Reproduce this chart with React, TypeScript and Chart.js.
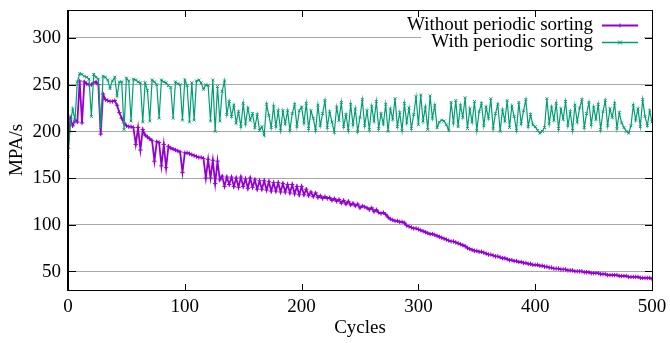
import React, { useEffect, useRef } from 'react';
import { Chart, registerables } from 'chart.js';

Chart.register(...registerables);

// Cycle numbers (every 2 cycles, 0..500)
const cycles: number[] = Array.from({ length: 251 }, (_, i) => i * 2);

const withoutSorting: number[] = [
  182, 214, 206, 212, 210, 254, 209, 253, 251, 250,
  250, 252, 253, 250, 197, 240, 234, 233, 232, 232,
  233, 228, 220, 214, 209, 206, 205, 205, 204, 186,
  204, 180, 202, 196, 194, 192, 190, 168, 189, 188,
  163, 186, 161, 184, 182, 181, 180, 179, 178, 156,
  177, 177, 176, 175, 174, 173, 172, 172, 171, 150,
  170, 150, 169, 144, 168, 148, 152, 141, 151, 143,
  151, 141, 150, 140, 151, 141, 149, 139, 150, 140,
  148, 138, 147, 138, 147, 137, 146, 136, 145, 136,
  145, 135, 144, 135, 143, 134, 143, 133, 141, 132,
  141, 132, 138, 131, 135, 130, 134, 129, 131, 128,
  130, 128, 129, 126, 128, 125, 127, 123, 126, 122,
  125, 121, 123, 120, 122, 118, 120, 119, 118, 116,
  118, 114, 116, 113, 112, 113, 111, 108, 106, 105,
  104, 104, 103, 103, 102, 99, 98, 97, 96, 96,
  95, 94, 93, 92, 91, 90, 90, 89, 88, 87,
  86, 85, 84, 83, 82, 82, 81, 80, 79, 78,
  77, 75, 74, 73, 72, 72, 71, 71, 70, 69,
  68, 68, 67, 66, 66, 65, 64, 64, 63, 62,
  62, 61, 61, 60, 60, 59, 59, 58, 58, 57,
  57, 57, 56, 56, 55, 55, 54, 54, 53, 53,
  53, 52, 52, 52, 51, 51, 51, 50, 50, 50,
  50, 49, 49, 49, 48, 48, 48, 48, 47, 47,
  47, 46, 46, 46, 46, 46, 45, 45, 45, 45,
  44, 44, 44, 44, 44, 43, 43, 43, 43, 43,
  42,
];

const withSorting: number[] = [
  173, 208, 224, 212, 253, 262, 261, 259, 258, 256,
  216, 261, 258, 256, 204, 259, 258, 255, 246, 254,
  258, 238, 253, 253, 202, 257, 254, 211, 256, 255,
  253, 252, 210, 252, 244, 211, 255, 253, 250, 214,
  255, 253, 252, 249, 247, 214, 253, 251, 250, 212,
  255, 249, 210, 252, 212, 254, 255, 252, 245, 250,
  249, 211, 255, 200, 248, 211, 243, 254, 218, 232,
  216, 228, 209, 221, 205, 230, 208, 225, 212, 219,
  204, 218, 201, 205, 196, 229, 217, 204, 227, 205,
  222, 201, 222, 208, 222, 201, 219, 229, 205, 222,
  226, 209, 230, 203, 222, 214, 201, 228, 206, 219,
  233, 204, 221, 210, 199, 226, 212, 231, 205, 218,
  201, 229, 207, 224, 200, 215, 234, 206, 222, 202,
  227, 211, 232, 203, 219, 208, 229, 200, 224, 213,
  235, 205, 220, 201, 230, 209, 225, 203, 218, 237,
  207, 239, 211, 226, 202, 238, 214, 228, 204, 210,
  212, 211, 207, 201, 231, 209, 233, 205, 228, 215,
  236, 203, 224, 210, 232, 201, 221, 230, 206, 226,
  214, 235, 203, 219, 229, 200, 223, 211, 233, 204,
  227, 216, 201, 231, 208, 222, 234, 205, 218, 207,
  205, 201, 198, 200, 204, 235, 208, 226, 212, 230,
  203, 224, 213, 232, 206, 221, 201, 228, 210, 225,
  234, 204, 219, 231, 207, 226, 213, 229, 202, 221,
  233, 206, 224, 215, 230, 203, 220, 209, 204, 200,
  198, 206, 228, 212, 224, 205, 234, 216, 206, 222,
  210,
];

const xTicks: number[] = [0, 100, 200, 300, 400, 500];
const yTicks: number[] = [50, 100, 150, 200, 250, 300];
const seriesLabels: string[] = ['Without periodic sorting', 'With periodic sorting'];
const xTitle = 'Cycles';
const yTitle = 'MPA/s';

const PURPLE = '#9400d3';
const GREEN = '#009e73';
const FONT = '"Liberation Serif", "Times New Roman", serif';
const FSIZE = 19;

const drawMarker = (ctx: CanvasRenderingContext2D, style: string, x: number, y: number, r: number) => {
  ctx.beginPath();
  if (style === 'cross') {
    ctx.moveTo(x - r, y); ctx.lineTo(x + r, y);
    ctx.moveTo(x, y - r); ctx.lineTo(x, y + r);
  } else {
    ctx.moveTo(x - r, y - r); ctx.lineTo(x + r, y + r);
    ctx.moveTo(x - r, y + r); ctx.lineTo(x + r, y - r);
  }
  ctx.stroke();
};

const decorPlugin = {
  id: 'decor',
  afterDraw(chart: any) {
    const { ctx, chartArea: a, scales } = chart;
    const L = Math.round(a.left), R = Math.round(a.right), T = Math.round(a.top), B = Math.round(a.bottom);
    ctx.save();
    // legend box
    ctx.fillStyle = '#ffffff';
    ctx.fillRect(421, T + 1, R - 8 - 421, 40);
    // frame
    ctx.fillStyle = '#000000';
    ctx.fillRect(L - 1, T, 2, B - T + 1);
    ctx.fillRect(L, T, R - L + 1, 1);
    ctx.fillRect(L, B, R - L + 1, 1);
    ctx.fillRect(R, T, 1, B - T + 1);
    // inner tick marks
    xTicks.forEach((v) => {
      const px = Math.round(scales.x.getPixelForValue(v));
      ctx.fillRect(px, B - 6, 1, 6);
      ctx.fillRect(px, T + 1, 1, 6);
    });
    yTicks.forEach((v) => {
      const py = Math.round(scales.y.getPixelForValue(v));
      ctx.fillRect(L + 1, py, 7, 1);
      ctx.fillRect(R - 7, py, 7, 1);
    });
    // tick labels
    ctx.font = `${FSIZE}px ${FONT}`;
    ctx.fillStyle = '#000000';
    ctx.textBaseline = 'middle';
    ctx.textAlign = 'center';
    xTicks.forEach((v) => {
      ctx.fillText(String(v), scales.x.getPixelForValue(v), B + 17.5);
    });
    ctx.textAlign = 'right';
    yTicks.forEach((v) => {
      ctx.fillText(String(v), L - 7, scales.y.getPixelForValue(v) + 0.5);
    });
    // legend
    const rows = [
      { label: seriesLabels[0], color: PURPLE, marker: 'cross', y: T + 15 },
      { label: seriesLabels[1], color: GREEN, marker: 'crossRot', y: T + 32 },
    ];
    rows.forEach((r) => {
      ctx.fillStyle = '#000000';
      ctx.fillText(r.label, 593, r.y);
      ctx.strokeStyle = r.color;
      ctx.lineWidth = r.marker === 'cross' ? 1.8 : 1.3;
      ctx.beginPath();
      ctx.moveTo(602, r.y + 0.5);
      ctx.lineTo(638, r.y + 0.5);
      ctx.stroke();
      ctx.lineWidth = 1;
      drawMarker(ctx, r.marker, 620, r.y + 0.5, 2);
    });
    // axis titles
    ctx.textAlign = 'center';
    ctx.fillStyle = '#000000';
    ctx.fillText(xTitle, (L + R) / 2, 328);
    ctx.translate(17, (T + B) / 2);
    ctx.rotate(-Math.PI / 2);
    ctx.fillText(yTitle, 0, 0);
    ctx.restore();
  },
};

export default function App() {
  const canvasRef = useRef<HTMLCanvasElement | null>(null);

  useEffect(() => {
    const canvas = canvasRef.current;
    if (!canvas) return;
    const chart = new Chart(canvas, {
      type: 'line',
      data: {
        datasets: [
          {
            label: seriesLabels[0],
            data: cycles.map((c, i) => ({ x: c, y: withoutSorting[i] })),
            borderColor: PURPLE,
            backgroundColor: PURPLE,
            borderWidth: 1.8,
            pointStyle: 'cross',
            pointRadius: 2.2,
            pointBorderWidth: 1,
            pointBorderColor: PURPLE,
            tension: 0,
            order: 1,
          },
          {
            label: seriesLabels[1],
            data: cycles.map((c, i) => ({ x: c, y: withSorting[i] })),
            borderColor: GREEN,
            backgroundColor: GREEN,
            borderWidth: 1.2,
            pointStyle: 'crossRot',
            pointRadius: 2,
            pointBorderWidth: 1,
            pointBorderColor: GREEN,
            tension: 0,
            order: 0,
          },
        ],
      },
      options: {
        animation: false,
        responsive: false,
        devicePixelRatio: 1,
        layout: { padding: { top: 10, right: 18, left: 0, bottom: 0 } },
        plugins: { legend: { display: false }, tooltip: { enabled: false } },
        scales: {
          x: {
            type: 'linear',
            min: 0,
            max: 500,
            afterBuildTicks: (s: any) => { s.ticks = xTicks.map((v) => ({ value: v })); },
            afterFit: (s: any) => { s.height = 53; s.paddingLeft = 0; s.paddingRight = 0; },
            grid: { display: false },
            border: { display: false },
            ticks: { display: false },
          },
          y: {
            type: 'linear',
            min: 30,
            max: 330,
            afterBuildTicks: (s: any) => { s.ticks = yTicks.map((v) => ({ value: v })); },
            afterFit: (s: any) => { s.width = 68; s.paddingTop = 0; s.paddingBottom = 0; },
            grid: { color: '#a8a8a8', lineWidth: 1, drawTicks: false },
            border: { display: false },
            ticks: { display: false },
          },
        },
      },
      plugins: [decorPlugin],
    });
    return () => chart.destroy();
  }, []);

  return (
    <div style={{ position: 'fixed', left: 0, top: 0, width: 670, height: 343, background: '#fff' }}>
      <canvas ref={canvasRef} width={670} height={343} style={{ display: 'block', width: 670, height: 343 }} />
    </div>
  );
}
